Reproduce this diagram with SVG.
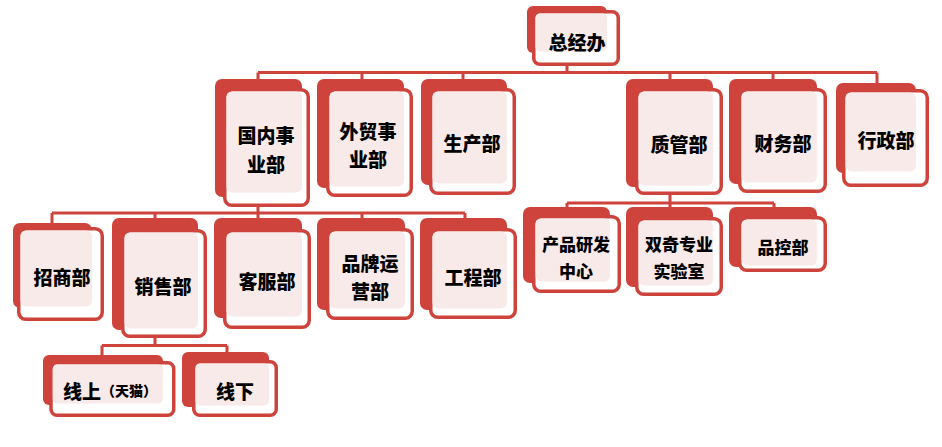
<svg xmlns="http://www.w3.org/2000/svg" width="942" height="447" viewBox="0 0 942 447">
<style>
.b{fill:#CE433B}
.o{fill:#fff;stroke:#CE433B;stroke-width:3.5}
.p{fill:#F9EAEA}
.c{stroke:#CE433B;stroke-width:3;fill:none}
.t{font-family:"Noto Sans CJK SC","Noto Sans",sans-serif;font-weight:900;font-size:19px;fill:#000;text-anchor:middle;dominant-baseline:central}
.s{font-size:17px}
</style>
<rect width="942" height="447" fill="#fff"/>
<g id="connectors" class="c">
<path d="M567,66V72.5M258,72.5H877M258,72.5V80M362,72.5V80M463,72.5V80M670,72.5V80M773,72.5V80M877,72.5V84"/>
<path d="M258,207V213M52,213H465M52,213V224M155,213V219M258,213V219M362,213V219M465,213V219"/>
<path d="M670,195V203M567,203H774M567,203V208M670,203V208M774,203V208"/>
<path d="M155,338V345.5M102,345.5H227M102,345.5V356M227,345.5V353"/>
</g>
<g id="n-zjb"><rect class="b" x="527" y="6" width="80" height="47" rx="6"/><rect class="o" x="533.75" y="11.75" width="84.5" height="52.5" rx="6"/><rect class="p" x="535.5" y="13.5" width="71.5" height="38" rx="5"/><text class="t" x="577" y="41">总经办</text></g>
<g id="n-gn"><rect class="b" x="215" y="79" width="87" height="118" rx="7"/><rect class="o" x="224.75" y="89.75" width="83.5" height="115.5" rx="7"/><rect class="p" x="226.5" y="91.5" width="75.5" height="101" rx="6"/><text class="t" x="266" y="134">国内事</text><text class="t" x="266" y="163">业部</text></g>
<g id="n-wm"><rect class="b" x="317" y="79" width="87" height="109" rx="7"/><rect class="o" x="327.75" y="89.75" width="83.5" height="105.5" rx="7"/><rect class="p" x="329.5" y="91.5" width="74.5" height="95" rx="6"/><text class="t" x="368" y="130">外贸事</text><text class="t" x="368" y="158">业部</text></g>
<g id="n-sc"><rect class="b" x="421" y="79" width="86" height="106" rx="7"/><rect class="o" x="430.75" y="89.75" width="83.5" height="103.5" rx="7"/><rect class="p" x="432.5" y="91.5" width="74.5" height="92" rx="6"/><text class="t" x="472" y="142">生产部</text></g>
<g id="n-zg"><rect class="b" x="626" y="79" width="87" height="108" rx="7"/><rect class="o" x="636.75" y="89.75" width="84.5" height="103.5" rx="7"/><rect class="p" x="638.5" y="91.5" width="74.5" height="94" rx="6"/><text class="t" x="679" y="143">质管部</text></g>
<g id="n-cw"><rect class="b" x="729" y="79" width="88" height="105" rx="7"/><rect class="o" x="739.75" y="89.75" width="85.5" height="101.5" rx="7"/><rect class="p" x="741.5" y="91.5" width="75.5" height="91" rx="6"/><text class="t" x="783" y="142">财务部</text></g>
<g id="n-xz"><rect class="b" x="836" y="83" width="80" height="90" rx="7"/><rect class="o" x="843.75" y="90.75" width="83.5" height="94.5" rx="7"/><rect class="p" x="845.5" y="92.5" width="70.5" height="79" rx="6"/><text class="t" x="886" y="139">行政部</text></g>
<g id="n-zs"><rect class="b" x="13" y="223" width="79" height="85" rx="7"/><rect class="o" x="18.75" y="228.75" width="83.5" height="90.5" rx="7"/><rect class="p" x="20.5" y="230.5" width="71.5" height="76" rx="6"/><text class="t" x="62" y="276">招商部</text></g>
<g id="n-xs"><rect class="b" x="112" y="218" width="86" height="112" rx="7"/><rect class="o" x="122.75" y="230.75" width="82.5" height="105.5" rx="7"/><rect class="p" x="124.5" y="232.5" width="73.5" height="96" rx="6"/><text class="t" x="163" y="285">销售部</text></g>
<g id="n-kf"><rect class="b" x="214" y="218" width="88" height="100" rx="7"/><rect class="o" x="224.75" y="230.75" width="84.5" height="96.5" rx="7"/><rect class="p" x="226.5" y="232.5" width="75.5" height="84" rx="6"/><text class="t" x="267" y="280">客服部</text></g>
<g id="n-pp"><rect class="b" x="317" y="218" width="88" height="92" rx="7"/><rect class="o" x="327.75" y="229.75" width="84.5" height="88.5" rx="7"/><rect class="p" x="329.5" y="231.5" width="75.5" height="77" rx="6"/><text class="t" x="370" y="262">品牌运</text><text class="t" x="370" y="290">营部</text></g>
<g id="n-gc"><rect class="b" x="420" y="218" width="87" height="92" rx="7"/><rect class="o" x="430.75" y="229.75" width="84.5" height="87.5" rx="7"/><rect class="p" x="432.5" y="231.5" width="74.5" height="77" rx="6"/><text class="t" x="473" y="276">工程部</text></g>
<g id="n-yf"><rect class="b" x="523" y="207" width="87" height="76" rx="7"/><rect class="o" x="533.75" y="216.75" width="85.5" height="74.5" rx="7"/><rect class="p" x="535.5" y="218.5" width="74.5" height="63" rx="6"/><text class="t s" x="576" y="243">产品研发</text><text class="t s" x="576" y="270">中心</text></g>
<g id="n-sq"><rect class="b" x="626" y="207" width="87" height="80" rx="7"/><rect class="o" x="636.75" y="218.75" width="84.5" height="75.5" rx="7"/><rect class="p" x="638.5" y="220.5" width="74.5" height="65" rx="6"/><text class="t s" x="679" y="243">双奇专业</text><text class="t s" x="679" y="270">实验室</text></g>
<g id="n-pk"><rect class="b" x="729" y="207" width="88" height="60" rx="7"/><rect class="o" x="739.75" y="217.75" width="85.5" height="52.5" rx="7"/><rect class="p" x="741.5" y="219.5" width="75.5" height="46" rx="6"/><text class="t s" x="783" y="246">品控部</text></g>
<g id="n-xsh"><rect class="b" x="43" y="355" width="120" height="50" rx="6"/><rect class="o" x="51" y="362.75" width="122.75" height="52.5" rx="6"/><rect class="p" x="52.75" y="364.5" width="110.25" height="39" rx="5"/><text class="t" x="63" y="390" style="text-anchor:start">线上<tspan font-size="14">（天猫）</tspan></text></g>
<g id="n-xx"><rect class="b" x="182" y="352" width="87" height="55" rx="6"/><rect class="o" x="193.75" y="361.75" width="82.5" height="53.5" rx="6"/><rect class="p" x="195.5" y="363.5" width="73.5" height="42" rx="5"/><text class="t" x="235" y="390">线下</text></g>
</svg>
